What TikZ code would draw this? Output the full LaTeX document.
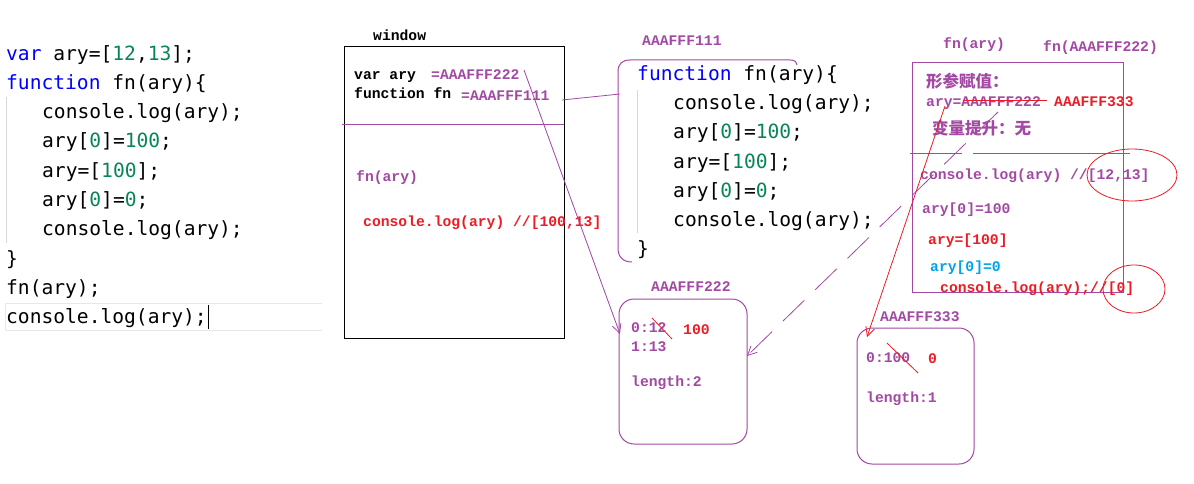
\documentclass[tikz,border=0pt]{standalone}
\usepackage{fontspec}
\setmainfont{Liberation Serif}
\newfontfamily\codefont{DejaVu Sans Mono}
\newfontfamily\annfont{Liberation Mono}
\newfontfamily\cjk{Noto Sans CJK SC}
\usetikzlibrary{arrows.meta}
\definecolor{kwblue}{RGB}{0,0,255}
\definecolor{numg}{RGB}{9,134,88}
\definecolor{pp}{RGB}{163,73,164}
\definecolor{rd}{RGB}{237,28,36}
\definecolor{cy}{RGB}{0,162,232}
\definecolor{guide}{RGB}{215,215,215}
\begin{document}
\begin{tikzpicture}[x=1pt,y=-1pt,
  code/.style={anchor=west,inner sep=0pt,font=\codefont\fontsize{19.6}{21}\selectfont,text height=15pt,text depth=3pt},
  ann/.style={anchor=west,inner sep=0pt,font=\annfont\bfseries\fontsize{14.7}{16}\selectfont,text height=11pt,text depth=2.2pt},
  zh/.style={anchor=west,inner sep=0pt,font=\cjk\bfseries\fontsize{16.5}{18}\selectfont,text height=12pt,text depth=2.5pt},
  frame/.style={line width=1pt},
  conn/.style={line width=0.8pt,-{Straight Barb[length=9pt,width=9pt]}},
  strike/.style={rd,line width=0.8pt}]
\useasboundingbox (0,0) rectangle (1194,484);
\fill[white] (0,0) rectangle (1194,484);

% ---------- left code ----------
\draw[guide,line width=0.8pt] (6,97) -- (6,243);
\draw[gray!18,line width=1pt] (322,303) -- (5,303) -- (5,330) -- (322,330);
\draw[black,line width=0.8pt] (208,305) -- (208,329);
\node[code] (l1) at (6,55) {\textcolor{kwblue}{var} ary=[\textcolor{numg}{12},\textcolor{numg}{13}];};
\node[code] (l2) at (6,84) {\textcolor{kwblue}{function} fn(ary)\{};
\node[code] (l3) at (42,113) {console.log(ary);};
\node[code] (l4) at (42,142) {ary[\textcolor{numg}{0}]=\textcolor{numg}{100};};
\node[code] (l5) at (42,171) {ary=[\textcolor{numg}{100}];};
\node[code] (l6) at (42,200) {ary[\textcolor{numg}{0}]=\textcolor{numg}{0};};
\node[code] (l7) at (42,229) {console.log(ary);};
\node[code] (l8) at (6,259) {\}};
\node[code] (l9) at (6,288) {fn(ary);};
\node[code] (l10) at (6,317) {console.log(ary);};

% ---------- window ----------
\node[ann] (wlab) at (373,36) {window};
\draw[frame] (344,47) rectangle (564,338);
\draw[pp,line width=0.8pt] (342,124) -- (564,124);
\node[ann] (wv) at (354,75) {var ary};
\node[ann,pp] (wv2) at (431,75) {=AAAFFF222};
\node[ann] (wf) at (354,94) {function fn};
\node[ann,pp] (wf2) at (461,96) {=AAAFFF111};
\node[ann,pp] (wcall) at (356,177) {fn(ary)};
\node[ann,rd] (wlog) at (363,222) {console.log(ary) //[100,13]};

% ---------- function heap AAAFFF111 ----------
\node[ann,pp] (h1lab) at (642,41) {AAAFFF111};
\draw[pp,line width=1pt] (797,65) .. controls (796,61) and (794,60) .. (790,60) -- (630,60)
  .. controls (622,60) and (618,64) .. (618,72) -- (618,248)
  .. controls (618,257) and (623,262) .. (632,262);
\draw[guide,line width=0.8pt] (637,90) -- (637,233);
\node[code] (f1) at (637,75) {\textcolor{kwblue}{function} fn(ary)\{};
\node[code] (f2) at (673,104) {console.log(ary);};
\node[code] (f3) at (673,133) {ary[\textcolor{numg}{0}]=\textcolor{numg}{100};};
\node[code] (f4) at (673,162) {ary=[\textcolor{numg}{100}];};
\node[code] (f5) at (673,191) {ary[\textcolor{numg}{0}]=\textcolor{numg}{0};};
\node[code] (f6) at (673,220) {console.log(ary);};
\node[code] (f7) at (637,249) {\}};

% ---------- fn scope ----------
\node[ann,pp] (slab1) at (943,44) {fn(ary)};
\node[ann,pp] (slab2) at (1043,47) {fn(AAAFFF222)};
\draw[pp,frame] (912,63) rectangle (1123,292);
\draw[pp,line width=0.8pt] (910,153) -- (962,153);
\draw[pp,line width=0.8pt] (973,153) -- (1130,153);
\node[zh,pp] (s1) at (926,83) {形参赋值：};
\node[ann,pp] (s2) at (926,102) {ary=AAAFFF222};
\draw[strike] (963,100) -- (1047,100);
\node[ann,rd] (s2b) at (1054,102) {AAAFFF333};
\node[zh,pp] (s3) at (932,130) {变量提升：无};
\node[ann,pp] (s4) at (920,175) {console.log(ary) //[12,13]};
\node[ann,pp] (s5) at (922,209) {ary[0]=100};
\node[ann,rd] (s6) at (928,240) {ary=[100]};
\node[ann,cy] (s7) at (930,267) {ary[0]=0};
\node[ann,rd] (s8) at (940,288) {console.log(ary);//[0]};
\draw[rd,line width=0.8pt] (1132,175) ellipse [x radius=45,y radius=26];
\draw[rd,line width=0.8pt] (1134,289) ellipse [x radius=31,y radius=24];

% ---------- heap AAAFFF222 ----------
\node[ann,pp] (h2lab) at (651,287) {AAAFFF222};
\draw[pp,frame,rounded corners=15pt] (619,299) rectangle (747,444);
\node[ann,pp] (h2a) at (631,328) {0:12};
\draw[strike] (652,318) -- (672,339);
\node[ann,rd] (h2b) at (683,330) {100};
\node[ann,pp] (h2c) at (631,347) {1:13};
\node[ann,pp] (h2d) at (631,382) {length:2};

% ---------- heap AAAFFF333 ----------
\node[ann,pp] (h3lab) at (880,317) {AAAFFF333};
\draw[pp,frame,rounded corners=15pt] (857,328) rectangle (974,464);
\node[ann,pp] (h3a) at (866,358) {0:100};
\draw[strike] (887,343) -- (918,373);
\node[ann,rd] (h3b) at (928,359) {0};
\node[ann,pp] (h3c) at (866,398) {length:1};

% ---------- connectors ----------
\coordinate (c1s) at (524,70);
\coordinate (c1e) at (620,334);
\coordinate (c2s) at (562,100);
\coordinate (c2e) at (620,94);
\coordinate (c3s) at (945,106);
\coordinate (c3e) at (867,337);
\coordinate (c4s) at (998,112);
\coordinate (c4e) at (747,356);
\draw[pp,conn] (c1s) -- (c1e);
\draw[pp,line width=0.8pt] (c2s) -- (c2e);
\draw[rd,conn] (c3s) -- (c3e);
\draw[pp,conn,dash pattern=on 30pt off 15pt] (c4s) -- (c4e);
\end{tikzpicture}
\end{document}
